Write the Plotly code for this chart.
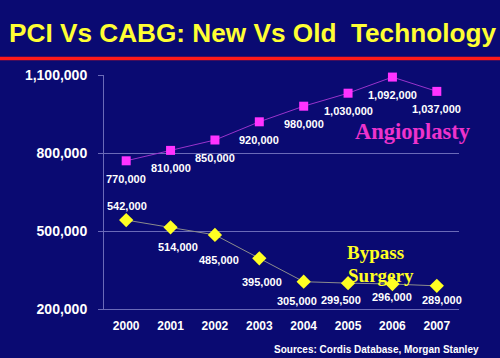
import plotly.graph_objects as go

years = ["2000", "2001", "2002", "2003", "2004", "2005", "2006", "2007"]
angioplasty = [770000, 810000, 850000, 920000, 980000, 1030000, 1092000, 1037000]
bypass = [542000, 514000, 485000, 395000, 305000, 299500, 296000, 289000]
angio_labels = ["770,000", "810,000", "850,000", "920,000", "980,000", "1,030,000", "1,092,000", "1,037,000"]
bypass_labels = ["542,000", "514,000", "485,000", "395,000", "305,000", "299,500", "296,000", "289,000"]
y_ticks = [200000, 500000, 800000, 1100000]
y_tick_text = ["200,000", "500,000", "800,000", "1,100,000"]

BG = "#0a0a72"
GRID = "#6a6ab8"

fig = go.Figure()
fig.add_trace(go.Scatter(
    x=years, y=angioplasty, mode="lines+markers",
    line=dict(color="#9933cc", width=1),
    marker=dict(symbol="square", size=9, color="#ff33ff"),
    showlegend=False, cliponaxis=False, hoverinfo="skip"))
fig.add_trace(go.Scatter(
    x=years, y=bypass, mode="lines+markers",
    line=dict(color="#8c8c8c", width=1),
    marker=dict(symbol="diamond", size=11, color="#ffff22"),
    showlegend=False, cliponaxis=False, hoverinfo="skip"))

lab_font = dict(family="Liberation Sans, Arial", size=11, color="white", weight="bold")
for i, (v, t) in enumerate(zip(angioplasty, angio_labels)):
    fig.add_annotation(x=i, y=v, text=t, showarrow=False, font=lab_font,
                       xanchor="center", yanchor="middle", yshift=-18)
b_shift = [(1, 14), (7, -20), (4, -25), (3, -24), (-7, -19), (-7, -17), (0, -13), (5, -14)]
for i, ((v, t), (dx, dy)) in enumerate(zip(zip(bypass, bypass_labels), b_shift)):
    fig.add_annotation(x=i, y=v, text=t, showarrow=False, font=lab_font,
                       xanchor="center", yanchor="middle", yshift=dy, xshift=dx)

# series name labels
serif = "Liberation Serif, Times New Roman"
def paper_ann(px, py, text, font, xanchor="center"):
    fig.add_annotation(xref="paper", yref="paper", x=(px - 104) / 355, y=(309 - py) / 234,
                       text=text, showarrow=False, font=font,
                       xanchor=xanchor, yanchor="middle")

paper_ann(413, 131, "Angioplasty", dict(family=serif, size=22.5, color="#ee33cc", weight="bold"))
paper_ann(375.5, 252, "Bypass", dict(family=serif, size=19, color="#ffff22", weight="bold"))
paper_ann(381, 275, "Surgery", dict(family=serif, size=19, color="#ffff22", weight="bold"))

# title
paper_ann(7, 33, "PCI Vs CABG: New Vs Old &nbsp;Technology",
          dict(family="Liberation Sans, Arial", size=26.2, color="#ffff33", weight="bold"),
          xanchor="left")
# sources
paper_ann(376, 349, "Sources: Cordis Database, Morgan Stanley",
          dict(family="Liberation Sans, Arial", size=10, color="white", weight="bold"))

# red rule
fig.add_shape(type="line", xref="paper", yref="paper",
              x0=-104 / 355, x1=(500 - 104) / 355,
              y0=(309 - 58.5) / 234, y1=(309 - 58.5) / 234,
              line=dict(color="#ff1a1a", width=3.5))

fig.update_layout(
    width=500, height=358,
    margin=dict(l=104, r=41, t=75, b=49),
    paper_bgcolor=BG, plot_bgcolor=BG,
    xaxis=dict(type="category", range=[-0.5, 7.5], showgrid=False,
               showline=True, linecolor=GRID, linewidth=1, ticks="",
               tickfont=dict(family="Liberation Sans, Arial", size=12, color="white", weight="bold"),
               ticklabelstandoff=6),
    yaxis=dict(range=[200000, 1100000], tickvals=y_ticks, ticktext=y_tick_text,
               showgrid=True, gridcolor=GRID, gridwidth=1,
               showline=True, linecolor=GRID, linewidth=1,
               ticks="outside", ticklen=5, tickcolor=GRID,
               tickfont=dict(family="Liberation Sans, Arial", size=14, color="white", weight="bold"),
               ticklabelstandoff=8, zeroline=False),
)

fig.write_html("out.html", config={"displayModeBar": False, "staticPlot": True},
               post_script="document.body.style.margin='0';document.body.style.background='%s';" % BG)
